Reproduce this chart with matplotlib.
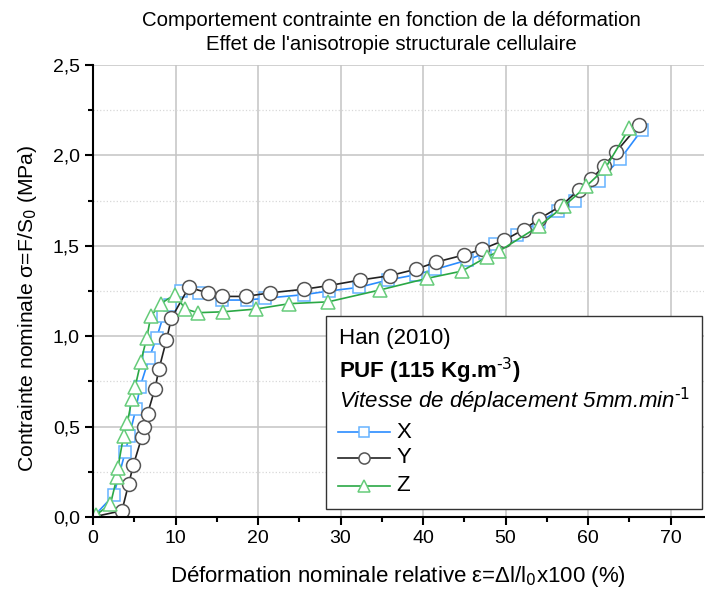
import numpy as np
import matplotlib.pyplot as plt
from matplotlib.ticker import MultipleLocator, FuncFormatter
from matplotlib.lines import Line2D
from matplotlib.patches import Rectangle

plt.rcParams['font.family'] = ['Liberation Sans', 'DejaVu Sans']
plt.rcParams['axes.unicode_minus'] = False

# X direction (squares)
x_X = [0, 2.5, 3.9, 4.4, 5.2, 5.7, 6.8, 7.7, 8.5, 9.3, 10.6, 12.9, 15.6, 18.6,
       20.9, 25.6, 28.6, 32.2, 35.7, 39.1, 41.5, 45.3, 47.5, 48.7, 51.4, 54.0,
       56.3, 58.4, 61.3, 63.9, 66.5]
s_X = [0, 0.12, 0.36, 0.45, 0.60, 0.72, 0.88, 0.99, 1.11, 1.17, 1.25, 1.24, 1.20, 1.20,
       1.21, 1.23, 1.25, 1.27, 1.31, 1.34, 1.37, 1.42, 1.46, 1.51, 1.56, 1.63,
       1.69, 1.75, 1.86, 1.98, 2.14]

# Y direction (circles)
x_Y = [0, 3.5, 4.3, 4.9, 5.9, 6.2, 6.6, 7.5, 8.0, 8.9, 9.5, 11.6, 13.9, 15.6,
       18.5, 21.5, 25.6, 28.6, 32.3, 36.0, 39.1, 41.6, 45.0, 47.1, 49.8, 52.2,
       54.1, 56.7, 58.9, 60.4, 61.9, 63.4, 66.2]
s_Y = [0, 0.035, 0.18, 0.29, 0.44, 0.50, 0.57, 0.71, 0.82, 0.98, 1.10, 1.27, 1.24, 1.22,
       1.22, 1.24, 1.26, 1.28, 1.31, 1.335, 1.37, 1.41, 1.45, 1.48, 1.53, 1.59,
       1.65, 1.72, 1.81, 1.87, 1.94, 2.02, 2.17]

# Z direction (triangles)
x_Z = [0.3, 2.1, 2.9, 3.0, 3.7, 4.15, 4.7, 5.1, 5.8, 6.5, 7.0, 8.2, 9.9, 11.2,
       12.7, 15.8, 19.7, 23.8, 28.5, 34.8, 40.5, 44.7, 47.8, 49.2, 54.1, 57.1,
       59.8, 62.1, 65.0]
s_Z = [0.01, 0.07, 0.22, 0.27, 0.45, 0.52, 0.65, 0.72, 0.86, 0.99, 1.11, 1.18, 1.23, 1.15,
       1.13, 1.135, 1.15, 1.18, 1.19, 1.256, 1.32, 1.36, 1.44, 1.47, 1.61, 1.72,
       1.83, 1.93, 2.15]

c_X, e_X = '#2b8cff', '#66b3ff'
c_Y, e_Y = '#222222', '#555555'
c_Z, e_Z = '#2aa845', '#66cc7a'

fig = plt.figure(figsize=(7.05, 5.94), dpi=100)
ax = fig.add_axes([0.132, 0.1296, 0.866, 0.761])

ax.plot(x_X, s_X, color=c_X, lw=1.2, marker='s', ms=8.5, mfc='white', mec=e_X, mew=1.1)
ax.plot(x_Y, s_Y, color=c_Y, lw=1.2, marker='o', ms=10, mfc='white', mec=e_Y, mew=1.1)
ax.plot(x_Z, s_Z, color=c_Z, lw=1.2, marker='^', ms=10.5, mfc='white', mec=e_Z, mew=1.1)

ax.set_xlim(0, 74)
ax.set_ylim(0, 2.5)
ax.xaxis.set_major_locator(MultipleLocator(10))
ax.xaxis.set_minor_locator(MultipleLocator(5))
ax.yaxis.set_major_locator(MultipleLocator(0.5))
ax.yaxis.set_minor_locator(MultipleLocator(0.25))
ax.yaxis.set_major_formatter(FuncFormatter(lambda v, p: ('%.1f' % v).replace('.', ',')))

ax.grid(which='major', color='#c4c4c4', lw=1.1)
ax.grid(which='minor', axis='y', color='#d8d8d8', lw=0.9, ls=':')
ax.set_axisbelow(True)

for s in ['top', 'right']:
    ax.spines[s].set_visible(False)
for s in ['left', 'bottom']:
    ax.spines[s].set_linewidth(1.5)
ax.tick_params(which='major', direction='out', length=6, width=1.5, labelsize=14)
ax.tick_params(which='minor', direction='out', length=3.5, width=1.5)

ax.set_xlabel('Déformation nominale relative ε=Δl/l$_0$x100 (%)', fontsize=16, labelpad=12)
ax.set_ylabel('Contrainte nominale σ=F/S$_0$ (MPa)', fontsize=15.2)
ax.yaxis.set_label_coords(-0.089, 0.462)
fig.text(0.555, 0.945, 'Comportement contrainte en fonction de la déformation\n'
         "Effet de l'anisotropie structurale cellulaire",
         ha='center', va='center', fontsize=14.7, linespacing=1.3)

# legend box drawn by hand
ax.add_patch(Rectangle((0.381, 0.018), 0.616, 0.427, transform=ax.transAxes,
                       facecolor='white', edgecolor='#333333', lw=1.0, zorder=5, clip_on=False))
ax.text(0.403, 0.394, 'Han (2010)', transform=ax.transAxes, fontsize=16, va='center', zorder=6)
ax.text(0.403, 0.323, 'PUF (115 Kg.m$^{\\text{-3}}$)', transform=ax.transAxes,
        fontsize=16, fontweight='bold', va='center', zorder=6)
ax.text(0.403, 0.257, 'Vitesse de déplacement 5mm.min$^{\\text{-1}}$', transform=ax.transAxes,
        fontsize=16, style='italic', va='center', zorder=6)
entries = [('X', c_X, e_X, 's', 7), ('Y', c_Y, e_Y, 'o', 8), ('Z', c_Z, e_Z, '^', 9)]
ys = [0.188, 0.131, 0.069]
for (lab, c, e, m, ms), yy in zip(entries, ys):
    ax.add_line(Line2D([0.401, 0.487], [yy, yy], transform=ax.transAxes, color=c, lw=1.2, zorder=6))
    ax.add_line(Line2D([0.444], [yy], transform=ax.transAxes, marker=m, ms=ms, mfc='white',
                       mec=e, mew=1.1, zorder=7))
    ax.text(0.497, yy, lab, transform=ax.transAxes, fontsize=16, va='center', zorder=6)

fig.savefig('out.png', dpi=100)
